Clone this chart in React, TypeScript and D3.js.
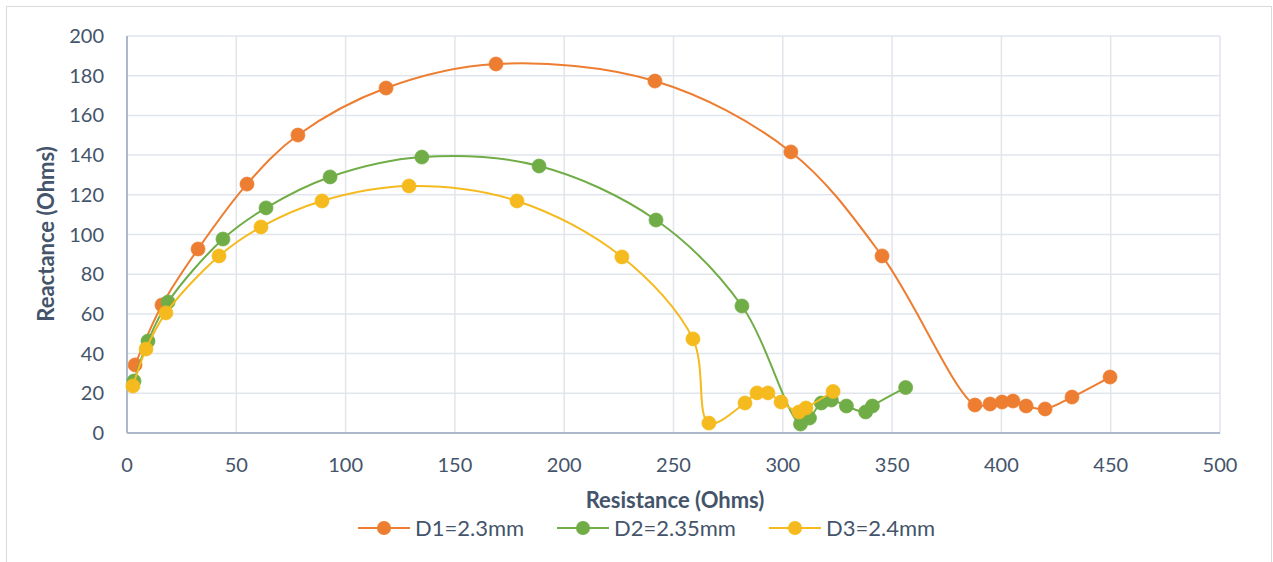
import React, { useEffect, useRef } from "react";
import * as d3 from "d3";

// values (resistance, reactance) in ohms
const d1Res = [3.7, 16, 32.5, 54.9, 78.2, 118.5, 168.8, 241.5, 303.7, 345.4, 387.9, 394.8, 400.3, 405.3, 411.3, 420, 432.3, 449.7];
const d1Rea = [34.3, 64.5, 92.7, 125.4, 150.1, 173.8, 185.9, 177.3, 141.6, 89.2, 14.1, 14.6, 15.6, 16.1, 13.6, 12.1, 18.1, 28.2];

const d2Res = [3.2, 9.6, 18.8, 43.9, 63.6, 92.9, 134.9, 188.5, 242, 281.3, 308.1, 312.2, 317.6, 322.2, 329.1, 337.9, 341, 356.2];
const d2Rea = [26.2, 46.3, 66, 97.7, 113.4, 129, 139, 134.5, 107.3, 64, 4.5, 7.5, 15.1, 16.6, 13.6, 10.6, 13.6, 22.9];

const d3Res = [2.7, 8.7, 17.8, 42.1, 61.3, 89.2, 129, 178.4, 226.4, 258.9, 266.2, 282.7, 288.2, 293.2, 299.2, 307.4, 310.6, 323];
const d3Rea = [23.7, 42.3, 60.5, 89.2, 103.8, 116.9, 124.4, 116.9, 88.7, 47.4, 5, 15.1, 20.2, 20.2, 15.6, 10.6, 12.6, 20.9];

const seriesNames = ["D1=2.3mm", "D2=2.35mm", "D3=2.4mm"];
const seriesColors = ["#ED7D31", "#70AD47", "#F4BA1E"];
const xTicks = [0, 50, 100, 150, 200, 250, 300, 350, 400, 450, 500];
const yTicks = [0, 20, 40, 60, 80, 100, 120, 140, 160, 180, 200];

const W = 1273, H = 562;
const font = "Lato, 'Open Sans', sans-serif";
const textColor = "#44546A";

function Chart() {
  const ref = useRef<SVGSVGElement>(null);

  useEffect(() => {
    const svg = d3.select(ref.current);
    svg.selectAll("*").remove();

    const x = d3.scaleLinear().domain([0, 500]).range([127, 1220]);
    const y = d3.scaleLinear().domain([0, 200]).range([433, 36]);

    svg.append("rect").attr("x", 6.5).attr("y", 6.5).attr("width", 1265).attr("height", 560)
      .attr("fill", "#fff").attr("stroke", "#D9D9D9").attr("stroke-width", 1);

    // grid
    svg.append("g").selectAll("line.h").data(yTicks.slice(1)).join("line")
      .attr("x1", x(0)).attr("x2", x(500))
      .attr("y1", d => y(d)).attr("y2", d => y(d))
      .attr("stroke", "#E1E5EC").attr("stroke-width", 1.5);
    svg.append("g").selectAll("line.v").data(xTicks.slice(1)).join("line")
      .attr("y1", y(0)).attr("y2", y(200))
      .attr("x1", d => x(d)).attr("x2", d => x(d))
      .attr("stroke", "#E1E5EC").attr("stroke-width", 1.5);

    // axis lines
    svg.append("line").attr("x1", x(0)).attr("x2", x(500)).attr("y1", y(0)).attr("y2", y(0))
      .attr("stroke", "#ADB9CA").attr("stroke-width", 2);
    svg.append("line").attr("x1", x(0)).attr("x2", x(0)).attr("y1", y(0)).attr("y2", y(200))
      .attr("stroke", "#ADB9CA").attr("stroke-width", 2);

    // tick labels
    svg.append("g").selectAll("text").data(yTicks).join("text")
      .attr("x", 104).attr("y", d => y(d)).attr("dy", "0.35em")
      .attr("text-anchor", "end").attr("font-family", font).attr("font-size", 20)
      .attr("fill", textColor).text(d => d);
    svg.append("g").selectAll("text").data(xTicks).join("text")
      .attr("x", d => x(d)).attr("y", 465).attr("dy", "0.35em")
      .attr("text-anchor", "middle").attr("font-family", font).attr("font-size", 20)
      .attr("fill", textColor).text(d => d);

    // axis titles
    svg.append("text").attr("x", 675).attr("y", 500).attr("dy", "0.35em")
      .attr("text-anchor", "middle").attr("font-family", font).attr("font-size", 22)
      .attr("font-weight", "bold").attr("fill", textColor).text("Resistance (Ohms)");
    svg.append("text").attr("transform", "translate(46,234) rotate(-90)").attr("dy", "0.35em")
      .attr("text-anchor", "middle").attr("font-family", font).attr("font-size", 22)
      .attr("font-weight", "bold").attr("fill", textColor).text("Reactance (Ohms)");

    const all = [
      d1Res.map((r, i) => [r, d1Rea[i]]),
      d2Res.map((r, i) => [r, d2Rea[i]]),
      d3Res.map((r, i) => [r, d3Rea[i]]),
    ];

    const line = d3.line<number[]>()
      .x(d => x(d[0])).y(d => y(d[1]))
      .curve(d3.curveCatmullRom.alpha(0.5));

    all.forEach((pts, s) => {
      svg.append("path").attr("d", line(pts)).attr("fill", "none")
        .attr("stroke", seriesColors[s]).attr("stroke-width", 2);
      svg.append("g").selectAll("circle").data(pts).join("circle")
        .attr("cx", d => x(d[0])).attr("cy", d => y(d[1])).attr("r", 7)
        .attr("fill", seriesColors[s]).attr("stroke", seriesColors[s]).attr("stroke-width", 0.75);
    });

    // legend
    const legX = [358, 557, 769];
    const lg = svg.append("g");
    seriesNames.forEach((name, s) => {
      lg.append("line").attr("x1", legX[s]).attr("x2", legX[s] + 52)
        .attr("y1", 528).attr("y2", 528).attr("stroke", seriesColors[s]).attr("stroke-width", 2);
      lg.append("circle").attr("cx", legX[s] + 26).attr("cy", 528).attr("r", 7).attr("fill", seriesColors[s]);
      lg.append("text").attr("x", legX[s] + 57).attr("y", 528).attr("dy", "0.35em")
        .attr("font-family", font).attr("font-size", 22).attr("fill", textColor).text(name);
    });
  }, []);

  return <svg ref={ref} width={W} height={H} style={{ position: "absolute", left: 0, top: 0 }} />;
}

export default function App() {
  return <Chart />;
}
